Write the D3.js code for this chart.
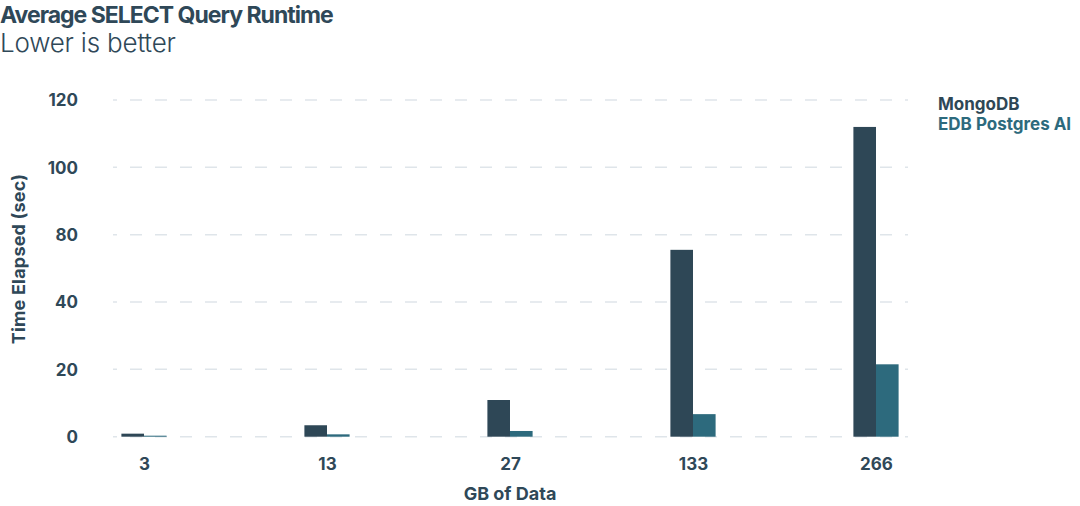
<!DOCTYPE html>
<html>
<head>
<meta charset="utf-8">
<script src="https://cdn.jsdelivr.net/npm/d3@7"></script>
<style>
  body { margin: 0; background: #fff; }
  svg text { font-family: Inter, "Liberation Sans", sans-serif; fill: #2f4858; }
</style>
</head>
<body>
<div id="chart"></div>
<script>
const sizes = ['3', '13', '27', '133', '266'];
const mongoValues = [0.9, 3.4, 10.9, 71, 112];
const edbValues = [0.3, 0.7, 1.7, 6.7, 21.5];
const seriesNames = ['MongoDB', 'EDB Postgres AI'];
const seriesColors = ['#2e4756', '#2d6a7d'];
// tick labels as printed on the original (no 60)
const yTicks = [0, 20, 40, 80, 100, 120];

const width = 1080;
const height = 506;

const svg = d3.select('#chart')
    .append('svg')
    .attr('width', width)
    .attr('height', height);

const plotTop = 100, plotBottom = 436.7;
const y = d3.scaleLinear()
    .domain(yTicks)
    .range(yTicks.map((d, i) => plotBottom - i * (plotBottom - plotTop) / (yTicks.length - 1)));

const x = d3.scalePoint()
    .domain(sizes)
    .range([144, 876]);

const barWidth = 22.6;

// gridlines
svg.append('g')
    .selectAll('line')
    .data(yTicks)
    .enter()
    .append('line')
    .attr('x1', 113)
    .attr('x2', 908)
    .attr('y1', d => y(d))
    .attr('y2', d => y(d))
    .attr('stroke', '#dfe5ea')
    .attr('stroke-width', 1.5)
    .attr('stroke-dasharray', '12,13')
    .attr('stroke-dashoffset', 8);

// y axis labels
const yAxis = d3.axisLeft(y).tickValues(yTicks).tickSize(0).tickPadding(0);
svg.append('g')
    .attr('transform', 'translate(78,0)')
    .call(yAxis)
    .call(g => g.select('.domain').remove())
    .selectAll('text')
    .attr('font-size', 17)
    .attr('font-weight', 700)
    .attr('dy', '0.35em');

// x axis labels
const xAxis = d3.axisBottom(x).tickSize(0).tickPadding(0);
svg.append('g')
    .attr('transform', 'translate(0,458)')
    .call(xAxis)
    .call(g => g.select('.domain').remove())
    .selectAll('text')
    .attr('font-size', 17)
    .attr('font-weight', 700)
    .attr('dy', '0.71em');

// bars
const series = [mongoValues, edbValues];
series.forEach((vals, s) => {
    svg.append('g')
        .selectAll('rect')
        .data(vals)
        .enter()
        .append('rect')
        .attr('x', (d, i) => x(sizes[i]) - barWidth + s * barWidth)
        .attr('width', barWidth)
        .attr('y', d => y(d))
        .attr('height', d => y(0) - y(d))
        .attr('fill', seriesColors[s]);
});

// titles
svg.append('text')
    .attr('x', 0)
    .attr('y', 23)
    .attr('font-size', 23)
    .attr('font-weight', 700)
    .attr('letter-spacing', -1)
    .text('Average SELECT Query Runtime');

svg.append('text')
    .attr('x', 0)
    .attr('y', 52)
    .attr('font-size', 26)
    .attr('font-weight', 300)
    .attr('letter-spacing', -0.2)
    .text('Lower is better');

svg.append('text')
    .attr('transform', 'translate(25,259) rotate(-90)')
    .attr('text-anchor', 'middle')
    .attr('font-size', 18)
    .attr('font-weight', 700)
    .attr('letter-spacing', 0.2)
    .text('Time Elapsed (sec)');

svg.append('text')
    .attr('x', x('27'))
    .attr('y', 500)
    .attr('text-anchor', 'middle')
    .attr('font-size', 18)
    .attr('font-weight', 700)
    .text('GB of Data');

// legend
svg.append('g')
    .selectAll('text')
    .data(seriesNames)
    .enter()
    .append('text')
    .attr('x', 938)
    .attr('y', (d, i) => 110 + i * 20)
    .attr('font-size', 17)
    .attr('font-weight', 700)
    .style('fill', (d, i) => seriesColors[i])
    .text(d => d);
</script>
</body>
</html>
